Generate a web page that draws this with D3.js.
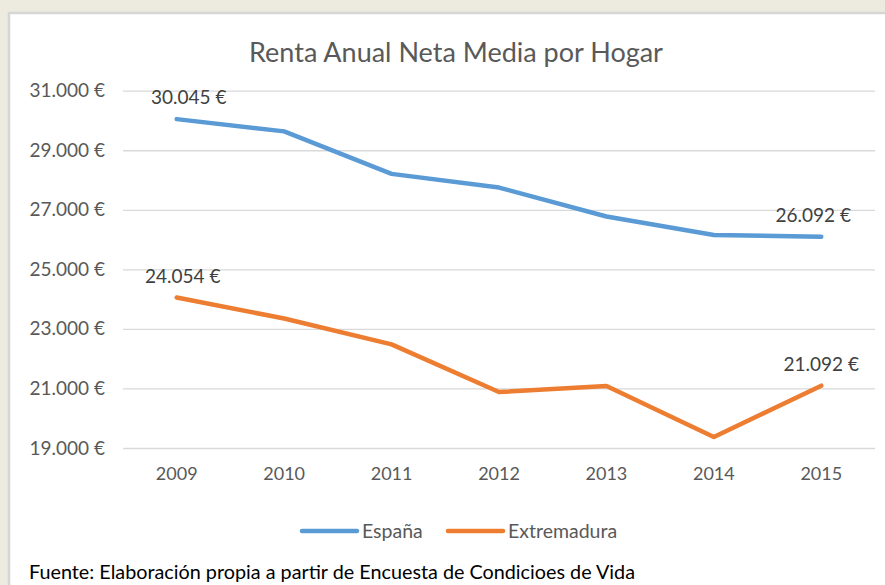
<!DOCTYPE html>
<meta charset="utf-8">
<style>
body { margin: 0; background: #edebe0; }
svg { display: block; font-family: Lato, "Open Sans", sans-serif; }
.tick text { fill: #595959; }
</style>
<svg width="885" height="585"></svg>
<script src="https://cdn.jsdelivr.net/npm/d3@7"></script>
<script>

const years = ["2009", "2010", "2011", "2012", "2013", "2014", "2015"];
const espana = [30045, 29634, 28206, 27747, 26775, 26154, 26092];
const extremadura = [24054, 23350, 22480, 20880, 21080, 19370, 21092];
const yTicks = [19000, 21000, 23000, 25000, 27000, 29000, 31000];

const seriesNames = ["España", "Extremadura"];
const seriesColors = ["#5b9bd5", "#ed7d31"];

const svg = d3.select("svg");

//chart frame
svg.append("rect")
    .attr("x", 9).attr("y", 13)
    .attr("width", 885).attr("height", 585)
    .attr("fill", "#fff")
    .attr("stroke", "#d6d6d6")
    .attr("stroke-width", 2.5);

const x = d3.scaleBand()
    .domain(years)
    .range([123, 875]);

const y = d3.scaleLinear()
    .domain([19000, 31000])
    .range([448, 90.7]);

const euro = d => d3.format(",")(d).replace(/,/g, ".") + " €";

//title
svg.append("text")
    .attr("x", 456).attr("y", 62)
    .attr("text-anchor", "middle")
    .attr("fill", "#595959")
    .attr("font-size", 27)
    .text("Renta Anual Neta Media por Hogar");

//gridlines + y labels
svg.append("g")
    .attr("transform", "translate(123,0)")
    .call(d3.axisLeft(y).tickValues(yTicks).tickSize(-752).tickPadding(18).tickFormat(euro))
    .call(g => g.select(".domain").remove())
    .call(g => g.selectAll(".tick line").attr("stroke", "#d9d9d9").attr("stroke-width", 1.3))
    .call(g => g.selectAll(".tick text").attr("font-size", 19).attr("font-family", "Lato"));

//x labels
svg.append("g")
    .attr("transform", "translate(0,448)")
    .call(d3.axisBottom(x).tickSize(0).tickPadding(19))
    .call(g => g.select(".domain").remove())
    .call(g => g.selectAll(".tick text").attr("font-size", 18).attr("font-family", "Lato"));

const line = d3.line()
    .x((d, i) => x(years[i]) + x.bandwidth() / 2)
    .y(d => y(d));

const series = [espana, extremadura];

svg.selectAll(".series")
    .data(series)
    .enter().append("path")
    .attr("class", "series")
    .attr("d", d => line(d))
    .attr("fill", "none")
    .attr("stroke", (d, i) => seriesColors[i])
    .attr("stroke-width", 4.5)
    .attr("stroke-linejoin", "round")
    .attr("stroke-linecap", "round");

//data labels, first and last point (small nudges like Excel places them)
const labelNudge = [[12, -8], [6, 0]];
series.forEach((s, k) => {
  [0, s.length - 1].forEach((i, j) => {
    svg.append("text")
      .attr("x", x(years[i]) + x.bandwidth() / 2 + labelNudge[k][j])
      .attr("y", y(s[i]) - 15)
      .attr("text-anchor", "middle")
      .attr("fill", "#404040")
      .attr("font-size", 19)
      .text(euro(s[i]));
  });
});

//legend
const legendX = [302, 448];
const legend = svg.selectAll(".legend")
    .data(seriesNames)
    .enter().append("g")
    .attr("class", "legend")
    .attr("transform", (d, i) => `translate(${legendX[i]},531)`);
legend.append("line")
    .attr("x1", 0).attr("x2", 55)
    .attr("stroke", (d, i) => seriesColors[i])
    .attr("stroke-width", 4.5)
    .attr("stroke-linecap", "round");
legend.append("text")
    .attr("x", 60).attr("dy", "0.35em")
    .attr("fill", "#595959")
    .attr("font-size", 19.5)
    .text(d => d);

//source
svg.append("text")
    .attr("x", 29).attr("y", 579)
    .attr("fill", "#000")
    .attr("font-size", 19.8)
    .text("Fuente: Elaboración propia a partir de Encuesta de Condicioes de Vida");

</script>
